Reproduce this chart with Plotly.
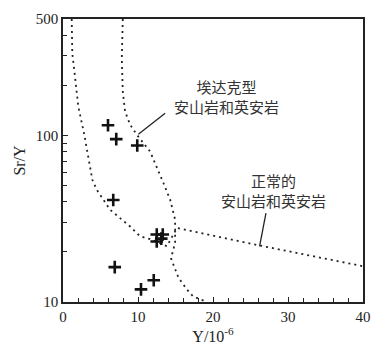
import math
import plotly.graph_objects as go

# Sample points: Y (10^-6) and Sr/Y
sample_y = [6.0, 7.1, 9.9, 6.7, 12.5, 13.3, 12.5, 13.1, 6.9, 12.1, 10.4]
sample_sr_y = [115, 95, 87, 41, 25.4, 25.4, 23.1, 24.0, 16.2, 13.5, 11.9]

# Left boundary curve (normal arc field boundary)
bound_a_x = [1.16, 1.24, 1.6, 2.04, 2.84, 3.91, 4.5, 6.28, 8.95, 10.28, 11.84, 13.85, 15.2, 26.3, 40.0]
bound_a_y = [500, 311, 225, 149, 101, 54.2, 47.2, 35.8, 28.4, 24.8, 23.7, 21.6, 27.8, 21.8, 16.4]

# Right boundary curve (adakite field boundary)
bound_b_x = [7.97, 7.84, 7.97, 8.28, 8.95, 9.84, 11.62, 12.51, 13.39, 14.29, 14.95, 14.95, 14.4, 15.39, 16.52, 17.36, 19.19]
bound_b_y = [500, 290, 183, 139, 116, 101, 80, 65.1, 51.8, 41.1, 31.2, 22.7, 18.3, 14.0, 11.9, 10.8, 10.0]

x_ticks = [0, 10, 20, 30, 40]
y_ticks = [10, 100, 500]
y_minor = [20, 30, 40, 50, 60, 70, 80, 90, 200, 300, 400]

label_adakite = "埃达克型<br>安山岩和英安岩"
label_normal = "正常的<br>安山岩和英安岩"

fig = go.Figure()
dot = "2px,4px"
fig.add_trace(go.Scatter(x=bound_a_x, y=bound_a_y, mode="lines",
                         line=dict(color="#222", width=1.8, dash=dot), hoverinfo="skip"))
fig.add_trace(go.Scatter(x=bound_b_x, y=bound_b_y, mode="lines",
                         line=dict(color="#222", width=1.8, dash=dot), hoverinfo="skip"))
# pointer lines for labels
fig.add_trace(go.Scatter(x=[10.05, 13.62], y=[101.8, 136], mode="lines",
                         line=dict(color="#222", width=1.3), hoverinfo="skip"))
fig.add_trace(go.Scatter(x=[26.21, 27.06], y=[21.6, 34.2], mode="lines",
                         line=dict(color="#222", width=1.3), hoverinfo="skip"))
fig.add_trace(go.Scatter(x=sample_y, y=sample_sr_y, mode="markers",
                         marker=dict(symbol="cross-thin", size=9, color="#111",
                                     line=dict(color="#111", width=2.6))))

cjk = "Noto Sans CJK SC"
fig.add_annotation(x=21.8, y=math.log10(172), text=label_adakite, showarrow=False,
                   font=dict(family=cjk, size=15, color="#333"))
fig.add_annotation(x=28.0, y=math.log10(47), text=label_normal, showarrow=False,
                   font=dict(family=cjk, size=15, color="#333"))

serif = "Liberation Serif"
fig.update_layout(
    width=390, height=358,
    margin=dict(l=63, r=27, t=19, b=56, autoexpand=False),
    paper_bgcolor="white", plot_bgcolor="white",
    showlegend=False,
    font=dict(family=serif, size=15, color="#222"),
    xaxis=dict(range=[0, 40], tickvals=x_ticks, ticks="inside", ticklen=5, tickwidth=1.3,
               tickcolor="#222", showline=True, linecolor="#222", linewidth=1.5, mirror=True,
               showgrid=False, zeroline=False, automargin=False,
               minor=dict(dtick=2, ticks="inside", ticklen=4, tickwidth=1.3, tickcolor="#222", showgrid=False),
               title=dict(text="Y/10<sup>-6</sup>", font=dict(family=serif, size=16, color="#222"), standoff=7),
               tickfont=dict(family=serif, size=15, color="#222")),
    yaxis=dict(type="log", range=[1, math.log10(500)], tickvals=y_ticks, ticktext=["10", "100", "500"],
               ticks="inside", ticklen=5, tickwidth=1.3, tickcolor="#222",
               showline=True, linecolor="#222", linewidth=1.5, mirror=True,
               showgrid=False, zeroline=False, automargin=False,
               minor=dict(tickvals=y_minor, ticks="inside", ticklen=4, tickwidth=1.3, tickcolor="#222", showgrid=False),
               title=dict(text="Sr/Y", font=dict(family=serif, size=16, color="#222"), standoff=6),
               tickfont=dict(family=serif, size=15, color="#222")),
)

fig.write_html("out.html", config={"displayModeBar": False},
               post_script="document.body.style.margin='0';document.body.style.padding='0';")
